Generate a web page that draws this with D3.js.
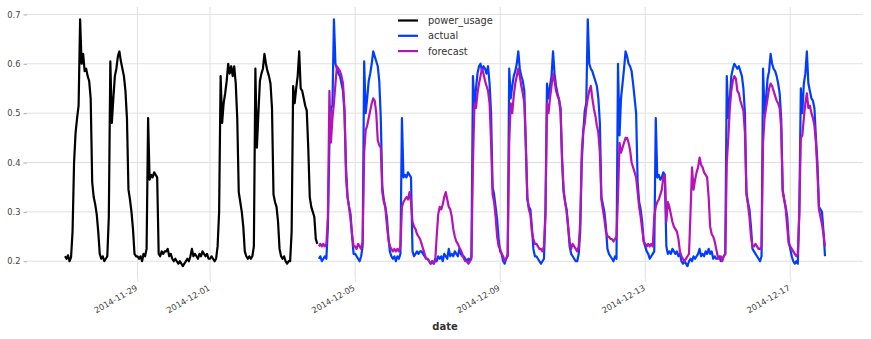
<!DOCTYPE html>
<html>
<head>
<meta charset="utf-8">
<script src="https://cdn.jsdelivr.net/npm/d3@7/dist/d3.min.js"></script>
<style>
  html, body { margin: 0; padding: 0; background: #fff; }
  svg { display: block; }
  text { font-family: "DejaVu Sans", sans-serif; }
</style>
</head>
<body>
<svg id="chart" width="871" height="339"></svg>
<script>
// ---------------- data (hourly values) ----------------
const powerUsageStart = "2014-11-27T00:00:00Z";
const powerUsage = [
  // 11-27
  0.21,0.205,0.212,0.2,0.208,0.26,0.40,0.46,0.49,0.515,0.69,0.60,0.62,0.585,0.59,0.575,0.565,0.53,0.36,0.33,0.315,0.295,0.26,0.215,
  // 11-28
  0.205,0.21,0.2,0.205,0.21,0.29,0.605,0.48,0.53,0.575,0.59,0.615,0.625,0.605,0.59,0.575,0.545,0.49,0.345,0.325,0.30,0.265,0.215,0.21,
  // 11-29
  0.21,0.205,0.21,0.2,0.215,0.21,0.225,0.49,0.365,0.375,0.37,0.38,0.375,0.37,0.215,0.21,0.22,0.215,0.22,0.22,0.225,0.21,0.215,0.205,
  // 11-30
  0.2,0.205,0.2,0.195,0.2,0.195,0.19,0.195,0.2,0.205,0.2,0.21,0.225,0.21,0.215,0.21,0.205,0.215,0.21,0.22,0.215,0.21,0.215,0.205,
  // 12-01
  0.205,0.21,0.205,0.2,0.205,0.23,0.30,0.575,0.48,0.52,0.54,0.565,0.60,0.58,0.595,0.575,0.595,0.56,0.49,0.34,0.32,0.30,0.27,0.22,
  // 12-02
  0.21,0.205,0.21,0.205,0.21,0.23,0.59,0.43,0.50,0.565,0.58,0.59,0.62,0.60,0.585,0.575,0.56,0.51,0.335,0.32,0.31,0.28,0.225,0.21,
  // 12-03
  0.205,0.21,0.2,0.195,0.2,0.2,0.26,0.555,0.52,0.55,0.575,0.625,0.55,0.545,0.53,0.515,0.505,0.43,0.33,0.31,0.30,0.29,0.245,0.235
];

const actualStart = "2014-12-04T00:00:00Z";
const actual = [
  // 12-04
  0.205,0.21,0.2,0.205,0.21,0.205,0.27,0.44,0.51,0.515,0.69,0.60,0.59,0.58,0.575,0.56,0.545,0.50,0.39,0.33,0.31,0.295,0.25,0.215,
  // 12-05
  0.215,0.21,0.205,0.2,0.21,0.23,0.605,0.50,0.53,0.565,0.58,0.60,0.625,0.615,0.605,0.595,0.565,0.49,0.35,0.325,0.31,0.29,0.25,0.22,
  // 12-06
  0.21,0.205,0.21,0.2,0.21,0.205,0.215,0.49,0.37,0.375,0.37,0.38,0.375,0.37,0.22,0.21,0.215,0.22,0.215,0.22,0.22,0.215,0.21,0.205,
  // 12-07
  0.205,0.2,0.195,0.2,0.195,0.205,0.2,0.21,0.205,0.21,0.2,0.215,0.21,0.205,0.225,0.21,0.215,0.21,0.22,0.215,0.21,0.225,0.215,0.21,
  // 12-08
  0.21,0.205,0.2,0.205,0.2,0.21,0.575,0.51,0.55,0.58,0.595,0.60,0.585,0.595,0.59,0.58,0.595,0.56,0.50,0.35,0.335,0.31,0.285,0.245,
  // 12-09
  0.22,0.215,0.2,0.195,0.205,0.21,0.59,0.53,0.555,0.575,0.585,0.60,0.625,0.59,0.575,0.565,0.545,0.43,0.325,0.31,0.305,0.27,0.225,0.21,
  // 12-10
  0.21,0.205,0.2,0.195,0.2,0.205,0.30,0.56,0.53,0.555,0.575,0.625,0.58,0.555,0.54,0.527,0.51,0.40,0.34,0.32,0.305,0.27,0.23,0.215,
  // 12-11
  0.21,0.205,0.2,0.2,0.215,0.26,0.40,0.46,0.505,0.52,0.69,0.60,0.59,0.585,0.575,0.565,0.555,0.53,0.48,0.33,0.315,0.30,0.27,0.225,
  // 12-12
  0.215,0.21,0.205,0.2,0.21,0.205,0.60,0.455,0.53,0.56,0.59,0.625,0.615,0.60,0.595,0.585,0.56,0.53,0.50,0.36,0.32,0.305,0.28,0.24,
  // 12-13
  0.23,0.22,0.215,0.205,0.21,0.215,0.22,0.49,0.37,0.375,0.365,0.37,0.38,0.375,0.23,0.215,0.22,0.215,0.225,0.22,0.215,0.22,0.21,0.215,
  // 12-14
  0.2,0.195,0.2,0.195,0.19,0.2,0.205,0.2,0.21,0.205,0.21,0.215,0.225,0.21,0.215,0.21,0.22,0.215,0.225,0.215,0.22,0.205,0.21,0.205,
  // 12-15
  0.205,0.21,0.2,0.205,0.21,0.215,0.575,0.49,0.53,0.575,0.59,0.60,0.595,0.59,0.595,0.585,0.575,0.55,0.50,0.34,0.32,0.305,0.27,0.225,
  // 12-16
  0.22,0.215,0.21,0.205,0.2,0.21,0.59,0.50,0.53,0.57,0.585,0.62,0.60,0.59,0.585,0.575,0.56,0.54,0.49,0.345,0.325,0.31,0.29,0.24,
  // 12-17
  0.225,0.21,0.2,0.195,0.2,0.195,0.30,0.55,0.50,0.56,0.58,0.625,0.56,0.545,0.53,0.525,0.51,0.45,0.40,0.31,0.305,0.30,0.26,0.21
];

const forecastStart = "2014-12-04T00:00:00Z";
const forecast = [
  // 12-04
  0.23,0.235,0.23,0.235,0.23,0.235,0.29,0.545,0.44,0.49,0.52,0.56,0.595,0.59,0.585,0.575,0.56,0.505,0.37,0.33,0.31,0.285,0.255,0.23,
  // 12-05
  0.23,0.225,0.235,0.23,0.225,0.24,0.42,0.465,0.475,0.49,0.505,0.52,0.53,0.525,0.50,0.445,0.435,0.43,0.34,0.32,0.31,0.275,0.245,0.23,
  // 12-06
  0.225,0.22,0.225,0.22,0.225,0.22,0.23,0.31,0.32,0.325,0.33,0.325,0.34,0.32,0.28,0.27,0.265,0.255,0.25,0.245,0.235,0.225,0.215,0.205,
  // 12-07
  0.205,0.2,0.195,0.2,0.195,0.2,0.25,0.295,0.31,0.305,0.315,0.33,0.34,0.325,0.31,0.305,0.29,0.265,0.25,0.24,0.235,0.228,0.222,0.215,
  // 12-08
  0.205,0.2,0.2,0.195,0.2,0.205,0.40,0.52,0.51,0.54,0.56,0.575,0.59,0.58,0.565,0.555,0.545,0.52,0.44,0.335,0.32,0.29,0.25,0.23,
  // 12-09
  0.225,0.215,0.21,0.2,0.205,0.215,0.44,0.52,0.50,0.535,0.56,0.575,0.59,0.575,0.555,0.54,0.52,0.44,0.33,0.305,0.295,0.26,0.245,0.235,
  // 12-10
  0.235,0.23,0.225,0.225,0.22,0.23,0.30,0.52,0.50,0.53,0.555,0.58,0.565,0.545,0.535,0.527,0.50,0.41,0.345,0.32,0.30,0.27,0.24,0.225,
  // 12-11
  0.235,0.23,0.225,0.22,0.23,0.28,0.42,0.465,0.48,0.51,0.53,0.545,0.555,0.53,0.51,0.495,0.475,0.46,0.42,0.325,0.305,0.285,0.26,0.25,
  // 12-12
  0.25,0.245,0.245,0.24,0.245,0.25,0.33,0.44,0.42,0.43,0.44,0.45,0.45,0.44,0.425,0.40,0.39,0.38,0.37,0.34,0.31,0.29,0.265,0.24,
  // 12-13
  0.235,0.23,0.235,0.23,0.235,0.23,0.29,0.31,0.32,0.325,0.335,0.345,0.37,0.375,0.28,0.32,0.31,0.295,0.28,0.27,0.265,0.26,0.245,0.22,
  // 12-14
  0.21,0.205,0.2,0.205,0.21,0.215,0.30,0.39,0.345,0.365,0.38,0.39,0.41,0.395,0.39,0.38,0.375,0.37,0.33,0.27,0.255,0.25,0.24,0.225,
  // 12-15
  0.21,0.205,0.21,0.2,0.21,0.215,0.40,0.45,0.51,0.545,0.565,0.575,0.57,0.545,0.54,0.525,0.515,0.505,0.46,0.335,0.315,0.29,0.25,0.23,
  // 12-16
  0.23,0.235,0.23,0.225,0.225,0.23,0.44,0.49,0.51,0.53,0.55,0.56,0.555,0.545,0.535,0.525,0.52,0.51,0.47,0.34,0.325,0.305,0.27,0.235,
  // 12-17
  0.23,0.225,0.22,0.215,0.21,0.215,0.30,0.45,0.455,0.49,0.52,0.54,0.51,0.515,0.50,0.49,0.475,0.44,0.38,0.305,0.29,0.275,0.255,0.23
];

const seriesNames = ["power_usage", "actual", "forecast"];
const seriesColors = ["#000000", "#003DFD", "#b512b8"];
const xTickLabels = ["2014-11-29", "2014-12-01", "2014-12-05", "2014-12-09", "2014-12-13", "2014-12-17"];
const yTickValues = [0.2, 0.3, 0.4, 0.5, 0.6, 0.7];
const xAxisTitle = "date";

// ---------------- build ----------------
const HOUR = 3600 * 1000;
function toPoints(startIso, values) {
  const t0 = new Date(startIso).getTime();
  return values.map((v, i) => ({ t: new Date(t0 + i * HOUR), v }));
}
const allSeries = [
  toPoints(powerUsageStart, powerUsage),
  toPoints(actualStart, actual),
  toPoints(forecastStart, forecast)
];

const margin = { left: 27, right: 8, top: 7, bottom: 60.5 };
const W = 871, H = 339;
const plotL = margin.left, plotR = W - margin.right, plotT = margin.top, plotB = H - margin.bottom;

const allPts = allSeries.flat();
const tExt = d3.extent(allPts, d => d.t.getTime());
const vExt = d3.extent(allPts, d => d.v);
const tPad = (tExt[1] - tExt[0]) * 0.05;
const vPad = (vExt[1] - vExt[0]) * 0.05;

const x = d3.scaleUtc()
  .domain([new Date(tExt[0] - tPad), new Date(tExt[1] + tPad)])
  .range([plotL, plotR]);
const y = d3.scaleLinear()
  .domain([vExt[0] - vPad, vExt[1] + vPad])
  .range([plotB, plotT]);

const svg = d3.select("#chart");
const g = svg.append("g");

// grid lines
const xTickDates = xTickLabels.map(s => new Date(s + "T00:00:00Z"));
g.append("g").selectAll("line.hg").data(yTickValues).join("line")
  .attr("x1", plotL).attr("x2", plotR)
  .attr("y1", d => y(d)).attr("y2", d => y(d))
  .attr("stroke", "#e0e0e0").attr("stroke-width", 1);
g.append("g").selectAll("line.vg").data(xTickDates).join("line")
  .attr("x1", d => x(d)).attr("x2", d => x(d))
  .attr("y1", plotT).attr("y2", plotB)
  .attr("stroke", "#e0e0e0").attr("stroke-width", 1);

// y axis
const yAxis = d3.axisLeft(y).tickValues(yTickValues).tickFormat(d3.format(".1f")).tickSize(3.5).tickPadding(3);
const ya = g.append("g").attr("transform", `translate(${plotL},0)`).call(yAxis);
ya.select(".domain").remove();
ya.selectAll("line").attr("stroke", "#aaaaaa");
ya.selectAll("text").attr("fill", "#444").style("font-size", "8.3px").style("font-family", "DejaVu Sans");

// x axis
const xAxis = d3.axisBottom(x).tickValues(xTickDates).tickFormat(d3.utcFormat("%Y-%m-%d")).tickSize(3.5).tickPadding(2);
const xa = g.append("g").attr("transform", `translate(0,${plotB})`).call(xAxis);
xa.select(".domain").remove();
xa.selectAll("line").attr("stroke", "#e0e0e0");
xa.selectAll("text")
  .attr("fill", "#444").style("font-size", "8.3px").style("font-family", "DejaVu Sans")
  .attr("text-anchor", "end")
  .attr("dy", null).attr("y", 0)
  .attr("transform", "translate(0,11) rotate(-30)");

// x axis title
g.append("text").attr("x", (plotL + plotR) / 2).attr("y", 330)
  .attr("text-anchor", "middle").attr("fill", "#333")
  .style("font-size", "10px").style("font-weight", "bold")
  .text(xAxisTitle);

// series lines
const line = d3.line().x(d => x(d.t)).y(d => y(d.v));
g.append("g").selectAll("path.s").data(allSeries).join("path")
  .attr("d", line)
  .attr("fill", "none")
  .attr("stroke", (d, i) => seriesColors[i])
  .attr("stroke-width", 2.2)
  .attr("stroke-linejoin", "round");

// legend
const lg = g.append("g").attr("transform", "translate(398,20.5)");
seriesNames.forEach((name, i) => {
  const row = lg.append("g").attr("transform", `translate(0,${i * 15.3})`);
  row.append("line").attr("x1", 0).attr("x2", 20).attr("y1", 0).attr("y2", 0)
    .attr("stroke", seriesColors[i]).attr("stroke-width", 2.2);
  row.append("text").attr("x", 30).attr("y", 0).attr("dy", "0.35em")
    .attr("fill", "#333").style("font-size", "9.8px").text(name);
});
</script>
</body>
</html>
